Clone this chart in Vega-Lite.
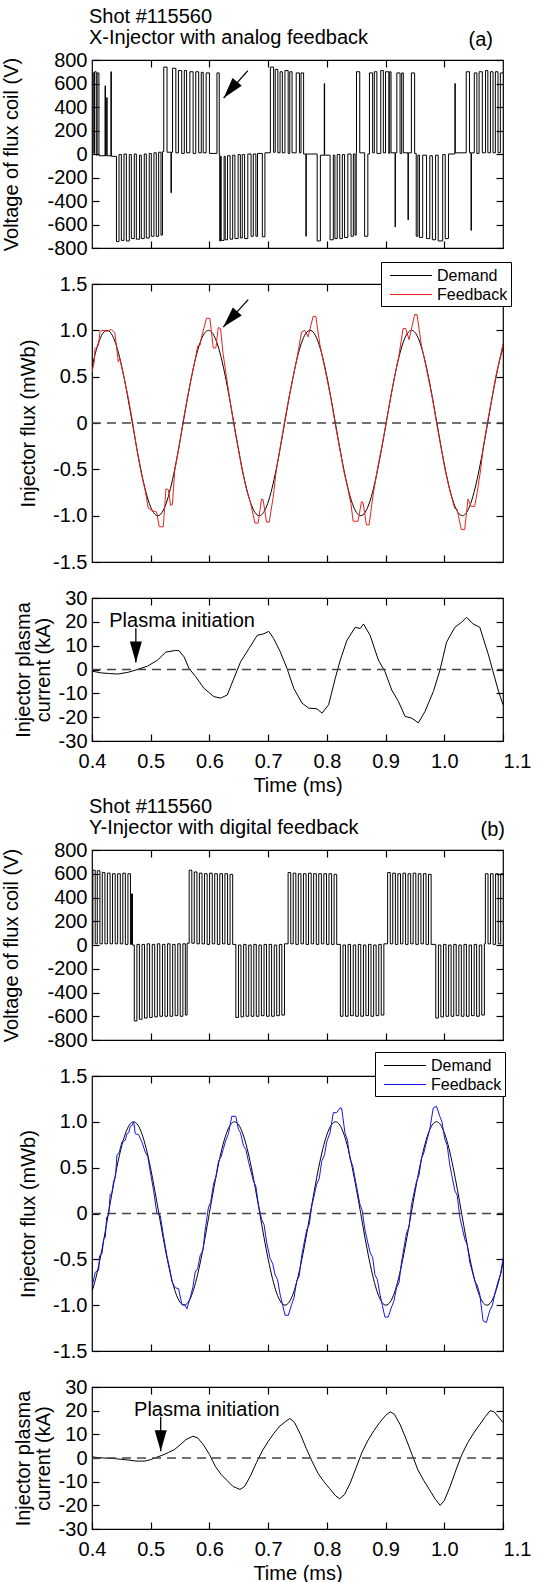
{
"$schema": "https://vega.github.io/schema/vega-lite/v6.json",
"padding": {"left": 1, "top": 6, "right": 5, "bottom": 5},
"config": {
  "font": "Liberation Sans",
  "view": {"stroke": "black", "strokeWidth": 1.2},
  "axis": {"domain": false, "grid": false, "tickColor": "black", "tickSize": -7, "tickWidth": 1.2, "labelPadding": 12, "labelFont": "Liberation Sans", "labelFontSize": 20, "labelColor": "black", "titleFont": "Liberation Sans", "titleFontSize": 20, "titleFontWeight": "normal", "titleColor": "black", "labelOverlap": false, "labelFlush": false}
},
"datasets": {
"va": [{"t":0.4,"v":690},{"t":0.403,"v":5},{"t":0.4042,"v":700},{"t":0.4072,"v":-10},{"t":0.4088,"v":690},{"t":0.4118,"v":-15},{"t":0.4222,"v":580},{"t":0.423,"v":-15},{"t":0.425,"v":480},{"t":0.4258,"v":-15},{"t":0.4322,"v":700},{"t":0.433,"v":-20},
{"t":0.4417,"v":-745},{"t":0.446,"v":-5},{"t":0.45,"v":-735},{"t":0.4545,"v":0},{"t":0.4585,"v":-740},{"t":0.4635,"v":-5},{"t":0.467,"v":-720},{"t":0.472,"v":0},{"t":0.4755,"v":-725},{"t":0.481,"v":-10},{"t":0.484,"v":-720},{"t":0.489,"v":0},{"t":0.4925,"v":-715},{"t":0.4975,"v":5},{"t":0.501,"v":-700},{"t":0.5055,"v":10},{"t":0.5095,"v":-700},{"t":0.5135,"v":15},{"t":0.5175,"v":-690},{"t":0.52,"v":20},
{"t":0.5222,"v":740},{"t":0.5278,"v":15},{"t":0.5345,"v":-330},{"t":0.5352,"v":15},{"t":0.5372,"v":730},{"t":0.5428,"v":10},{"t":0.5472,"v":710},{"t":0.5528,"v":5},{"t":0.5572,"v":710},{"t":0.5611,"v":10},{"t":0.5667,"v":700},{"t":0.5722,"v":5},{"t":0.5767,"v":700},{"t":0.5817,"v":10},{"t":0.5861,"v":695},{"t":0.5894,"v":10},{"t":0.5944,"v":690},{"t":0.6,"v":5},{"t":0.6128,"v":690},{"t":0.6167,"v":0},
{"t":0.6175,"v":-740},{"t":0.619,"v":-20},{"t":0.62,"v":-735},{"t":0.625,"v":-20},{"t":0.6269,"v":-730},{"t":0.6308,"v":-15},{"t":0.6352,"v":-725},{"t":0.6396,"v":-10},{"t":0.6434,"v":-720},{"t":0.6489,"v":-5},{"t":0.6527,"v":-715},{"t":0.656,"v":-5},{"t":0.6599,"v":-720},{"t":0.6654,"v":0},{"t":0.6709,"v":-700},{"t":0.6747,"v":0},{"t":0.6791,"v":-700},{"t":0.6819,"v":5},{"t":0.6901,"v":-705},{"t":0.6945,"v":10},
{"t":0.7038,"v":740},{"t":0.7093,"v":15},{"t":0.7121,"v":720},{"t":0.7165,"v":10},{"t":0.7203,"v":700},{"t":0.7242,"v":10},{"t":0.7286,"v":710},{"t":0.7341,"v":5},{"t":0.7368,"v":700},{"t":0.7407,"v":10},{"t":0.7478,"v":690},{"t":0.7533,"v":10},{"t":0.756,"v":690},{"t":0.7604,"v":0},
{"t":0.7643,"v":-700},{"t":0.765,"v":0},{"t":0.7835,"v":-740},{"t":0.789,"v":-10},{"t":0.7956,"v":600},{"t":0.7962,"v":-10},{"t":0.8055,"v":-730},{"t":0.811,"v":-10},{"t":0.8137,"v":-720},{"t":0.8176,"v":-5},{"t":0.822,"v":-720},{"t":0.8264,"v":-5},{"t":0.8302,"v":-710},{"t":0.8357,"v":0},{"t":0.8412,"v":-700},{"t":0.8451,"v":0},{"t":0.848,"v":-690},{"t":0.85,"v":10},
{"t":0.8505,"v":700},{"t":0.856,"v":10},{"t":0.8643,"v":-700},{"t":0.8698,"v":0},{"t":0.8725,"v":690},{"t":0.878,"v":10},{"t":0.8808,"v":700},{"t":0.8852,"v":5},{"t":0.8918,"v":710},{"t":0.8962,"v":10},{"t":0.9,"v":700},{"t":0.9055,"v":5},{"t":0.9071,"v":700},{"t":0.9093,"v":10},{"t":0.9162,"v":-620},{"t":0.9168,"v":10},{"t":0.9192,"v":690},{"t":0.9247,"v":5},{"t":0.9275,"v":690},{"t":0.9302,"v":10},{"t":0.9382,"v":-560},{"t":0.9388,"v":10},{"t":0.944,"v":690},{"t":0.9495,"v":5},
{"t":0.9522,"v":-700},{"t":0.955,"v":-10},{"t":0.9577,"v":-710},{"t":0.9632,"v":-10},{"t":0.9698,"v":-720},{"t":0.9753,"v":-15},{"t":0.9797,"v":-730},{"t":0.9852,"v":-10},{"t":0.9896,"v":-740},{"t":0.9973,"v":-5},{"t":1.0016,"v":-720},{"t":1.0071,"v":0},{"t":1.0181,"v":600},{"t":1.0187,"v":10},
{"t":1.0374,"v":700},{"t":1.0429,"v":10},{"t":1.0456,"v":-650},{"t":1.0462,"v":10},{"t":1.0511,"v":690},{"t":1.0555,"v":5},{"t":1.0593,"v":700},{"t":1.0648,"v":10},{"t":1.0703,"v":710},{"t":1.0742,"v":10},{"t":1.0786,"v":700},{"t":1.083,"v":10},{"t":1.087,"v":700},{"t":1.0915,"v":10},{"t":1.0955,"v":690},{"t":1.1,"v":690}],
"fad": [{"t":0.3967,"v":0.5},{"t":0.4039,"v":0.707},{"t":0.4111,"v":0.866},{"t":0.4183,"v":0.966},{"t":0.4255,"v":1},{"t":0.4327,"v":0.966},{"t":0.4399,"v":0.866},{"t":0.4471,"v":0.707},{"t":0.4543,"v":0.5},{"t":0.4615,"v":0.259},{"t":0.4687,"v":0},{"t":0.4759,"v":-0.259},{"t":0.4831,"v":-0.5},{"t":0.4903,"v":-0.707},{"t":0.4975,"v":-0.866},{"t":0.5047,"v":-0.966},{"t":0.512,"v":-1},{"t":0.5192,"v":-0.966},{"t":0.5264,"v":-0.866},{"t":0.5336,"v":-0.707},{"t":0.5408,"v":-0.5},{"t":0.548,"v":-0.259},{"t":0.5552,"v":0},{"t":0.5624,"v":0.259},{"t":0.5696,"v":0.5},{"t":0.5768,"v":0.707},{"t":0.584,"v":0.866},{"t":0.5912,"v":0.966},{"t":0.5984,"v":1},{"t":0.6056,"v":0.966},{"t":0.6128,"v":0.866},{"t":0.62,"v":0.707},{"t":0.6272,"v":0.5},{"t":0.6344,"v":0.259},{"t":0.6416,"v":0},{"t":0.6488,"v":-0.259},{"t":0.656,"v":-0.5},{"t":0.6632,"v":-0.707},{"t":0.6704,"v":-0.866},{"t":0.6776,"v":-0.966},{"t":0.6849,"v":-1},{"t":0.6921,"v":-0.966},{"t":0.6993,"v":-0.866},{"t":0.7065,"v":-0.707},{"t":0.7137,"v":-0.5},{"t":0.7209,"v":-0.259},{"t":0.7281,"v":0},{"t":0.7353,"v":0.259},{"t":0.7425,"v":0.5},{"t":0.7497,"v":0.707},{"t":0.7569,"v":0.866},{"t":0.7641,"v":0.966},{"t":0.7713,"v":1},{"t":0.7785,"v":0.966},{"t":0.7857,"v":0.866},{"t":0.7929,"v":0.707},{"t":0.8001,"v":0.5},{"t":0.8073,"v":0.259},{"t":0.8145,"v":0},{"t":0.8217,"v":-0.259},{"t":0.8289,"v":-0.5},{"t":0.8361,"v":-0.707},{"t":0.8433,"v":-0.866},{"t":0.8505,"v":-0.966},{"t":0.8578,"v":-1},{"t":0.865,"v":-0.966},{"t":0.8722,"v":-0.866},{"t":0.8794,"v":-0.707},{"t":0.8866,"v":-0.5},{"t":0.8938,"v":-0.259},{"t":0.901,"v":0},{"t":0.9082,"v":0.259},{"t":0.9154,"v":0.5},{"t":0.9226,"v":0.707},{"t":0.9298,"v":0.866},{"t":0.937,"v":0.966},{"t":0.9442,"v":1},{"t":0.9514,"v":0.966},{"t":0.9586,"v":0.866},{"t":0.9658,"v":0.707},{"t":0.973,"v":0.5},{"t":0.9802,"v":0.259},{"t":0.9874,"v":0},{"t":0.9946,"v":-0.259},{"t":1.0018,"v":-0.5},{"t":1.009,"v":-0.707},{"t":1.0162,"v":-0.866},{"t":1.0234,"v":-0.966},{"t":1.0307,"v":-1},{"t":1.0379,"v":-0.966},{"t":1.0451,"v":-0.866},{"t":1.0523,"v":-0.707},{"t":1.0595,"v":-0.5},{"t":1.0667,"v":-0.259},{"t":1.0739,"v":0},{"t":1.0811,"v":0.259},{"t":1.0883,"v":0.5},{"t":1.0955,"v":0.707},{"t":1.1027,"v":0.866}],
"faf": [{"t":0.4,"v":0.55},{"t":0.4039,"v":0.66},{"t":0.405,"v":0.8},{"t":0.4111,"v":0.84},{"t":0.4136,"v":0.99},{"t":0.4183,"v":1.0},{"t":0.4255,"v":0.99},{"t":0.4327,"v":1.01},{"t":0.439,"v":0.97},{"t":0.4448,"v":0.66},{"t":0.4471,"v":0.7},{"t":0.4543,"v":0.5},{"t":0.4615,"v":0.28},{"t":0.4687,"v":0.03},{"t":0.4759,"v":-0.27},{"t":0.4831,"v":-0.52},{"t":0.4903,"v":-0.72},{"t":0.496,"v":-0.92},{"t":0.5047,"v":-0.95},{"t":0.51,"v":-0.96},{"t":0.5146,"v":-1.12},{"t":0.5214,"v":-1.12},{"t":0.526,"v":-0.71},{"t":0.53,"v":-0.72},{"t":0.534,"v":-0.89},{"t":0.537,"v":-0.88},{"t":0.5408,"v":-0.52},{"t":0.548,"v":-0.27},{"t":0.5552,"v":0.02},{"t":0.5624,"v":0.27},{"t":0.5696,"v":0.5},{"t":0.5768,"v":0.72},{"t":0.58,"v":0.83},{"t":0.584,"v":0.84},{"t":0.5866,"v":0.93},{"t":0.595,"v":1.13},{"t":0.6008,"v":1.13},{"t":0.6065,"v":0.81},{"t":0.611,"v":0.81},{"t":0.615,"v":1.03},{"t":0.619,"v":1.02},{"t":0.623,"v":0.76},{"t":0.629,"v":0.5},{"t":0.6344,"v":0.27},{"t":0.6416,"v":-0.02},{"t":0.6488,"v":-0.27},{"t":0.656,"v":-0.52},{"t":0.6632,"v":-0.72},{"t":0.6704,"v":-0.87},{"t":0.6774,"v":-1.08},{"t":0.683,"v":-1.08},{"t":0.6887,"v":-0.82},{"t":0.6915,"v":-0.83},{"t":0.6972,"v":-1.07},{"t":0.7018,"v":-1.07},{"t":0.7086,"v":-0.8},{"t":0.7137,"v":-0.52},{"t":0.7209,"v":-0.25},{"t":0.7281,"v":0.02},{"t":0.7353,"v":0.27},{"t":0.7425,"v":0.49},{"t":0.7497,"v":0.72},{"t":0.7568,"v":0.98},{"t":0.7625,"v":1.0},{"t":0.768,"v":0.93},{"t":0.7766,"v":1.15},{"t":0.7812,"v":1.15},{"t":0.788,"v":0.85},{"t":0.7929,"v":0.7},{"t":0.8001,"v":0.48},{"t":0.8073,"v":0.25},{"t":0.8145,"v":-0.02},{"t":0.8217,"v":-0.27},{"t":0.8289,"v":-0.52},{"t":0.8361,"v":-0.72},{"t":0.841,"v":-0.87},{"t":0.8447,"v":-1.06},{"t":0.8532,"v":-1.06},{"t":0.8589,"v":-0.85},{"t":0.8617,"v":-0.86},{"t":0.8674,"v":-1.1},{"t":0.8719,"v":-1.1},{"t":0.8787,"v":-0.78},{"t":0.8866,"v":-0.48},{"t":0.8938,"v":-0.25},{"t":0.901,"v":0.0},{"t":0.9082,"v":0.26},{"t":0.9154,"v":0.5},{"t":0.9226,"v":0.72},{"t":0.9298,"v":1.02},{"t":0.9343,"v":1.02},{"t":0.94,"v":0.9},{"t":0.9496,"v":1.17},{"t":0.9536,"v":1.17},{"t":0.961,"v":0.84},{"t":0.9658,"v":0.7},{"t":0.973,"v":0.48},{"t":0.9802,"v":0.25},{"t":0.9874,"v":-0.02},{"t":0.9946,"v":-0.27},{"t":1.0018,"v":-0.52},{"t":1.009,"v":-0.72},{"t":1.0177,"v":-0.92},{"t":1.0217,"v":-0.93},{"t":1.029,"v":-1.15},{"t":1.0347,"v":-1.15},{"t":1.0404,"v":-0.82},{"t":1.046,"v":-0.9},{"t":1.0517,"v":-0.9},{"t":1.056,"v":-0.75},{"t":1.062,"v":-0.5},{"t":1.0667,"v":-0.25},{"t":1.0739,"v":0.02},{"t":1.0811,"v":0.27},{"t":1.0883,"v":0.52},{"t":1.0955,"v":0.72},{"t":1.1,"v":0.86}],
"ia": [{"t":0.4,"v":-0.7},{"t":0.415,"v":-1.4},{"t":0.43,"v":-1.7},{"t":0.444,"v":-1.9},{"t":0.461,"v":-1.2},{"t":0.4775,"v":0},{"t":0.4945,"v":1.4},{"t":0.5115,"v":3.9},{"t":0.5256,"v":7.3},{"t":0.5426,"v":8.0},{"t":0.5483,"v":7.9},{"t":0.5568,"v":5.3},{"t":0.5653,"v":0.4},{"t":0.5766,"v":-3.0},{"t":0.5907,"v":-7.9},{"t":0.6077,"v":-11.4},{"t":0.619,"v":-12.0},{"t":0.6303,"v":-10.7},{"t":0.6417,"v":-3.7},{"t":0.653,"v":3.2},{"t":0.6671,"v":8.7},{"t":0.6813,"v":14.3},{"t":0.6926,"v":15.0},{"t":0.7011,"v":16.0},{"t":0.7096,"v":12.9},{"t":0.7209,"v":7.3},{"t":0.7322,"v":0.4},{"t":0.7436,"v":-7.9},{"t":0.7577,"v":-14.1},{"t":0.769,"v":-16.2},{"t":0.7832,"v":-16.5},{"t":0.7917,"v":-18.3},{"t":0.803,"v":-14.8},{"t":0.8143,"v":-3.7},{"t":0.8228,"v":3.9},{"t":0.8341,"v":12.2},{"t":0.8483,"v":17.7},{"t":0.8568,"v":17.2},{"t":0.8624,"v":19.1},{"t":0.8737,"v":14.3},{"t":0.8879,"v":3.9},{"t":0.8992,"v":-1.0},{"t":0.9105,"v":-8.6},{"t":0.9219,"v":-13.4},{"t":0.9332,"v":-19.7},{"t":0.9445,"v":-20.4},{"t":0.9558,"v":-22.4},{"t":0.9671,"v":-17.6},{"t":0.9813,"v":-9.3},{"t":0.9926,"v":-0.3},{"t":1.0039,"v":11.5},{"t":1.018,"v":17.7},{"t":1.0294,"v":19.8},{"t":1.0379,"v":21.9},{"t":1.0492,"v":19.1},{"t":1.0605,"v":17.7},{"t":1.0747,"v":6.6},{"t":1.0832,"v":-1.0},{"t":1.0917,"v":-8.6},{"t":1.1,"v":-14.8}],
"vb": [{"t":0.4,"v":5},{"t":0.4015,"v":630},{"t":0.4055,"v":10},{"t":0.409,"v":625},{"t":0.4135,"v":10},{"t":0.4175,"v":610},{"t":0.422,"v":10},{"t":0.4262,"v":605},{"t":0.4308,"v":10},{"t":0.435,"v":600},{"t":0.4395,"v":10},{"t":0.4437,"v":600},{"t":0.4482,"v":10},{"t":0.4525,"v":605},{"t":0.4568,"v":5},{"t":0.4612,"v":600},{"t":0.4655,"v":5},{"t":0.4672,"v":430},{"t":0.469,"v":0},
{"t":0.472,"v":-640},{"t":0.4765,"v":5},{"t":0.4807,"v":-625},{"t":0.4852,"v":5},{"t":0.4894,"v":-615},{"t":0.4939,"v":10},{"t":0.4981,"v":-610},{"t":0.5026,"v":5},{"t":0.5068,"v":-605},{"t":0.5113,"v":10},{"t":0.5155,"v":-600},{"t":0.52,"v":5},{"t":0.5242,"v":-600},{"t":0.5287,"v":10},{"t":0.5329,"v":-600},{"t":0.5374,"v":5},{"t":0.5416,"v":-595},{"t":0.5461,"v":10},{"t":0.5503,"v":-600},{"t":0.5548,"v":10},{"t":0.559,"v":-590},{"t":0.562,"v":15},
{"t":0.5655,"v":630},{"t":0.57,"v":15},{"t":0.5742,"v":615},{"t":0.5787,"v":10},{"t":0.5829,"v":605},{"t":0.5874,"v":10},{"t":0.5916,"v":600},{"t":0.5961,"v":5},{"t":0.6003,"v":605},{"t":0.6048,"v":10},{"t":0.609,"v":600},{"t":0.6135,"v":5},{"t":0.6177,"v":600},{"t":0.6222,"v":10},{"t":0.6264,"v":600},{"t":0.6309,"v":5},{"t":0.6351,"v":595},{"t":0.6396,"v":5},
{"t":0.645,"v":-610},{"t":0.6495,"v":0},{"t":0.6537,"v":-605},{"t":0.6582,"v":5},{"t":0.6624,"v":-600},{"t":0.6669,"v":0},{"t":0.6711,"v":-600},{"t":0.6756,"v":5},{"t":0.6798,"v":-600},{"t":0.6843,"v":0},{"t":0.6885,"v":-595},{"t":0.693,"v":5},{"t":0.6972,"v":-600},{"t":0.7017,"v":5},{"t":0.7059,"v":-600},{"t":0.7104,"v":0},{"t":0.7146,"v":-595},{"t":0.7191,"v":5},{"t":0.7233,"v":-590},{"t":0.7278,"v":10},
{"t":0.734,"v":610},{"t":0.7385,"v":10},{"t":0.7427,"v":605},{"t":0.7472,"v":5},{"t":0.7514,"v":600},{"t":0.7559,"v":10},{"t":0.7601,"v":600},{"t":0.7646,"v":5},{"t":0.7688,"v":605},{"t":0.7733,"v":10},{"t":0.7775,"v":600},{"t":0.782,"v":5},{"t":0.7862,"v":600},{"t":0.7907,"v":10},{"t":0.7949,"v":600},{"t":0.7994,"v":5},{"t":0.8036,"v":600},{"t":0.8081,"v":5},{"t":0.8123,"v":595},{"t":0.8168,"v":5},
{"t":0.823,"v":-600},{"t":0.8275,"v":0},{"t":0.8317,"v":-600},{"t":0.8362,"v":5},{"t":0.8404,"v":-595},{"t":0.8449,"v":0},{"t":0.8491,"v":-600},{"t":0.8536,"v":5},{"t":0.8578,"v":-600},{"t":0.8623,"v":0},{"t":0.8665,"v":-595},{"t":0.871,"v":5},{"t":0.8752,"v":-600},{"t":0.8797,"v":0},{"t":0.8839,"v":-595},{"t":0.8884,"v":5},{"t":0.8926,"v":-590},{"t":0.8971,"v":10},
{"t":0.9035,"v":610},{"t":0.908,"v":10},{"t":0.9122,"v":605},{"t":0.9167,"v":5},{"t":0.9209,"v":600},{"t":0.9254,"v":10},{"t":0.9296,"v":605},{"t":0.9341,"v":5},{"t":0.9383,"v":600},{"t":0.9428,"v":10},{"t":0.947,"v":605},{"t":0.9515,"v":5},{"t":0.9557,"v":600},{"t":0.9602,"v":10},{"t":0.9644,"v":600},{"t":0.9689,"v":5},{"t":0.9731,"v":595},{"t":0.9776,"v":5},
{"t":0.9855,"v":-615},{"t":0.99,"v":0},{"t":0.9942,"v":-605},{"t":0.9987,"v":5},{"t":1.0029,"v":-600},{"t":1.0074,"v":0},{"t":1.0116,"v":-600},{"t":1.0161,"v":5},{"t":1.0203,"v":-595},{"t":1.0248,"v":0},{"t":1.029,"v":-600},{"t":1.0335,"v":5},{"t":1.0377,"v":-600},{"t":1.0422,"v":0},{"t":1.0464,"v":-595},{"t":1.0509,"v":5},{"t":1.0551,"v":-600},{"t":1.0596,"v":0},{"t":1.0638,"v":-590},{"t":1.0683,"v":10},
{"t":1.07,"v":600},{"t":1.0745,"v":10},{"t":1.0787,"v":600},{"t":1.0832,"v":5},{"t":1.0874,"v":600},{"t":1.0919,"v":10},{"t":1.0961,"v":600},{"t":1.1,"v":600}],
"fbd": [{"t":0.3993,"v":-0.866},{"t":0.4064,"v":-0.707},{"t":0.4136,"v":-0.5},{"t":0.4208,"v":-0.259},{"t":0.4279,"v":0},{"t":0.4351,"v":0.259},{"t":0.4422,"v":0.5},{"t":0.4494,"v":0.707},{"t":0.4566,"v":0.866},{"t":0.4637,"v":0.966},{"t":0.4709,"v":1},{"t":0.4781,"v":0.966},{"t":0.4852,"v":0.866},{"t":0.4924,"v":0.707},{"t":0.4996,"v":0.5},{"t":0.5067,"v":0.259},{"t":0.5139,"v":0},{"t":0.521,"v":-0.259},{"t":0.5282,"v":-0.5},{"t":0.5354,"v":-0.707},{"t":0.5425,"v":-0.866},{"t":0.5497,"v":-0.966},{"t":0.5569,"v":-1},{"t":0.564,"v":-0.966},{"t":0.5712,"v":-0.866},{"t":0.5783,"v":-0.707},{"t":0.5855,"v":-0.5},{"t":0.5927,"v":-0.259},{"t":0.5998,"v":0},{"t":0.607,"v":0.259},{"t":0.6142,"v":0.5},{"t":0.6213,"v":0.707},{"t":0.6285,"v":0.866},{"t":0.6356,"v":0.966},{"t":0.6428,"v":1},{"t":0.65,"v":0.966},{"t":0.6571,"v":0.866},{"t":0.6643,"v":0.707},{"t":0.6715,"v":0.5},{"t":0.6786,"v":0.259},{"t":0.6858,"v":0},{"t":0.6929,"v":-0.259},{"t":0.7001,"v":-0.5},{"t":0.7073,"v":-0.707},{"t":0.7144,"v":-0.866},{"t":0.7216,"v":-0.966},{"t":0.7287,"v":-1},{"t":0.7359,"v":-0.966},{"t":0.7431,"v":-0.866},{"t":0.7502,"v":-0.707},{"t":0.7574,"v":-0.5},{"t":0.7646,"v":-0.259},{"t":0.7717,"v":0},{"t":0.7789,"v":0.259},{"t":0.786,"v":0.5},{"t":0.7932,"v":0.707},{"t":0.8004,"v":0.866},{"t":0.8075,"v":0.966},{"t":0.8147,"v":1},{"t":0.8219,"v":0.966},{"t":0.829,"v":0.866},{"t":0.8362,"v":0.707},{"t":0.8433,"v":0.5},{"t":0.8505,"v":0.259},{"t":0.8577,"v":0},{"t":0.8648,"v":-0.259},{"t":0.872,"v":-0.5},{"t":0.8792,"v":-0.707},{"t":0.8863,"v":-0.866},{"t":0.8935,"v":-0.966},{"t":0.9006,"v":-1},{"t":0.9078,"v":-0.966},{"t":0.915,"v":-0.866},{"t":0.9221,"v":-0.707},{"t":0.9293,"v":-0.5},{"t":0.9364,"v":-0.259},{"t":0.9436,"v":0},{"t":0.9508,"v":0.259},{"t":0.9579,"v":0.5},{"t":0.9651,"v":0.707},{"t":0.9723,"v":0.866},{"t":0.9794,"v":0.966},{"t":0.9866,"v":1},{"t":0.9938,"v":0.966},{"t":1.0009,"v":0.866},{"t":1.0081,"v":0.707},{"t":1.0152,"v":0.5},{"t":1.0224,"v":0.259},{"t":1.0296,"v":0},{"t":1.0367,"v":-0.259},{"t":1.0439,"v":-0.5},{"t":1.0511,"v":-0.707},{"t":1.0582,"v":-0.866},{"t":1.0654,"v":-0.966},{"t":1.0725,"v":-1},{"t":1.0797,"v":-0.966},{"t":1.0868,"v":-0.866},{"t":1.094,"v":-0.707},{"t":1.1012,"v":-0.5}],
"fbf": [{"t":0.4,"v":-0.8},{"t":0.4057,"v":-0.64},{"t":0.4113,"v":-0.62},{"t":0.413,"v":-0.46},{"t":0.417,"v":-0.44},{"t":0.42,"v":-0.28},{"t":0.4227,"v":-0.26},{"t":0.425,"v":-0.04},{"t":0.4283,"v":-0.02},{"t":0.431,"v":0.21},{"t":0.434,"v":0.23},{"t":0.4368,"v":0.35},{"t":0.44,"v":0.4},{"t":0.4425,"v":0.64},{"t":0.446,"v":0.66},{"t":0.451,"v":0.78},{"t":0.4567,"v":0.8},{"t":0.4595,"v":0.87},{"t":0.4625,"v":0.88},{"t":0.4652,"v":0.95},{"t":0.468,"v":0.96},{"t":0.4709,"v":1.0},{"t":0.4737,"v":0.87},{"t":0.4794,"v":0.86},{"t":0.485,"v":0.78},{"t":0.4907,"v":0.67},{"t":0.495,"v":0.62},{"t":0.4992,"v":0.46},{"t":0.5049,"v":0.25},{"t":0.5105,"v":0.0},{"t":0.5162,"v":-0.02},{"t":0.5219,"v":-0.25},{"t":0.5276,"v":-0.46},{"t":0.533,"v":-0.62},{"t":0.536,"v":-0.74},{"t":0.5417,"v":-0.81},{"t":0.5474,"v":-0.82},{"t":0.553,"v":-0.99},{"t":0.5587,"v":-1.0},{"t":0.5616,"v":-1.04},{"t":0.5672,"v":-0.92},{"t":0.572,"v":-0.8},{"t":0.5757,"v":-0.64},{"t":0.58,"v":-0.6},{"t":0.5842,"v":-0.46},{"t":0.589,"v":-0.4},{"t":0.5927,"v":-0.18},{"t":0.5984,"v":0.07},{"t":0.602,"v":0.12},{"t":0.6069,"v":0.32},{"t":0.611,"v":0.4},{"t":0.6154,"v":0.57},{"t":0.62,"v":0.62},{"t":0.6239,"v":0.71},{"t":0.628,"v":0.8},{"t":0.6324,"v":0.87},{"t":0.6381,"v":1.06},{"t":0.6449,"v":1.06},{"t":0.6494,"v":0.92},{"t":0.653,"v":0.88},{"t":0.6579,"v":0.74},{"t":0.662,"v":0.7},{"t":0.6664,"v":0.57},{"t":0.675,"v":0.35},{"t":0.679,"v":0.3},{"t":0.6834,"v":0.1},{"t":0.6891,"v":-0.07},{"t":0.693,"v":-0.12},{"t":0.6976,"v":-0.32},{"t":0.7033,"v":-0.49},{"t":0.708,"v":-0.55},{"t":0.7118,"v":-0.67},{"t":0.716,"v":-0.72},{"t":0.7203,"v":-0.88},{"t":0.7288,"v":-1.11},{"t":0.7344,"v":-1.11},{"t":0.7401,"v":-0.99},{"t":0.744,"v":-0.92},{"t":0.7486,"v":-0.74},{"t":0.753,"v":-0.68},{"t":0.7571,"v":-0.46},{"t":0.7656,"v":-0.18},{"t":0.77,"v":-0.12},{"t":0.7741,"v":0.07},{"t":0.7826,"v":0.32},{"t":0.787,"v":0.38},{"t":0.7912,"v":0.57},{"t":0.796,"v":0.64},{"t":0.7997,"v":0.78},{"t":0.8053,"v":0.88},{"t":0.811,"v":1.1},{"t":0.8167,"v":1.1},{"t":0.8223,"v":1.15},{"t":0.8252,"v":1.15},{"t":0.8308,"v":0.88},{"t":0.835,"v":0.8},{"t":0.8393,"v":0.6},{"t":0.844,"v":0.52},{"t":0.8478,"v":0.39},{"t":0.8563,"v":0.1},{"t":0.86,"v":0.04},{"t":0.8649,"v":-0.18},{"t":0.8734,"v":-0.42},{"t":0.878,"v":-0.48},{"t":0.8819,"v":-0.67},{"t":0.886,"v":-0.72},{"t":0.8904,"v":-0.88},{"t":0.8989,"v":-1.13},{"t":0.9045,"v":-1.13},{"t":0.9102,"v":-1.02},{"t":0.914,"v":-0.96},{"t":0.9187,"v":-0.81},{"t":0.923,"v":-0.75},{"t":0.9272,"v":-0.53},{"t":0.9357,"v":-0.21},{"t":0.94,"v":-0.15},{"t":0.9442,"v":0.1},{"t":0.9527,"v":0.35},{"t":0.957,"v":0.42},{"t":0.9612,"v":0.6},{"t":0.965,"v":0.66},{"t":0.9697,"v":0.78},{"t":0.9754,"v":0.92},{"t":0.9811,"v":1.15},{"t":0.9867,"v":1.17},{"t":0.9924,"v":1.06},{"t":0.996,"v":1.0},{"t":1.0009,"v":0.81},{"t":1.005,"v":0.74},{"t":1.0094,"v":0.53},{"t":1.0179,"v":0.25},{"t":1.022,"v":0.2},{"t":1.0264,"v":-0.04},{"t":1.0349,"v":-0.28},{"t":1.039,"v":-0.34},{"t":1.0434,"v":-0.53},{"t":1.052,"v":-0.74},{"t":1.056,"v":-0.78},{"t":1.0604,"v":-0.88},{"t":1.0661,"v":-1.17},{"t":1.0717,"v":-1.19},{"t":1.0774,"v":-1.06},{"t":1.082,"v":-1.0},{"t":1.0859,"v":-0.88},{"t":1.0916,"v":-0.74},{"t":1.096,"v":-0.66},{"t":1.1,"v":-0.49}],
"ib": [{"t":0.4,"v":0.5},{"t":0.41,"v":0.2},{"t":0.42,"v":0.0},{"t":0.44,"v":-0.3},{"t":0.46,"v":-0.8},{"t":0.475,"v":-1.3},{"t":0.49,"v":-1.3},{"t":0.5,"v":-0.7},{"t":0.51,"v":0.3},{"t":0.52,"v":1.2},{"t":0.53,"v":2.3},{"t":0.54,"v":3.5},{"t":0.55,"v":5.5},{"t":0.56,"v":7.8},{"t":0.572,"v":9.2},{"t":0.58,"v":8.5},{"t":0.59,"v":5.5},{"t":0.6,"v":1.5},{"t":0.61,"v":-3.5},{"t":0.62,"v":-7.0},{"t":0.63,"v":-9.5},{"t":0.64,"v":-12.0},{"t":0.652,"v":-13.3},{"t":0.66,"v":-12.0},{"t":0.67,"v":-7.5},{"t":0.68,"v":-2.0},{"t":0.69,"v":3.0},{"t":0.7,"v":7.0},{"t":0.71,"v":10.5},{"t":0.72,"v":13.5},{"t":0.73,"v":15.5},{"t":0.737,"v":16.7},{"t":0.745,"v":15.0},{"t":0.755,"v":10.0},{"t":0.765,"v":4.0},{"t":0.775,"v":-1.5},{"t":0.785,"v":-6.5},{"t":0.795,"v":-10.0},{"t":0.805,"v":-13.0},{"t":0.815,"v":-16.0},{"t":0.822,"v":-17.2},{"t":0.83,"v":-15.5},{"t":0.84,"v":-10.5},{"t":0.85,"v":-4.0},{"t":0.86,"v":2.5},{"t":0.87,"v":7.5},{"t":0.88,"v":11.5},{"t":0.89,"v":15.0},{"t":0.9,"v":18.0},{"t":0.908,"v":19.5},{"t":0.915,"v":18.5},{"t":0.925,"v":14.0},{"t":0.935,"v":8.0},{"t":0.945,"v":1.5},{"t":0.955,"v":-5.0},{"t":0.965,"v":-9.5},{"t":0.975,"v":-13.5},{"t":0.985,"v":-17.5},{"t":0.993,"v":-20.0},{"t":1.0,"v":-18.0},{"t":1.01,"v":-12.0},{"t":1.02,"v":-5.0},{"t":1.03,"v":1.5},{"t":1.04,"v":6.5},{"t":1.05,"v":10.5},{"t":1.06,"v":14.0},{"t":1.07,"v":17.5},{"t":1.078,"v":20.0},{"t":1.085,"v":19.5},{"t":1.095,"v":16.5},{"t":1.1,"v":15.0}]
},
"vconcat": [
 {"width": 411, "height": 188,
  "title": {"text": ["Shot #115560", "X-Injector with analog feedback"], "anchor": "start", "frame": "group", "fontSize": 20, "fontWeight": "normal", "font": "Liberation Sans", "color": "black", "lineHeight": 21, "offset": -18, "dx": -3},
  "layer": [
   {"data": {"name": "va"}, "mark": {"type": "line", "interpolate": "step-after", "color": "black", "strokeWidth": 1, "clip": true},
    "encoding": {
     "x": {"field": "t", "type": "quantitative", "scale": {"domain": [0.4, 1.1], "nice": false, "zero": false}, "axis": {"orient": "bottom", "values": [0.5,0.6,0.7,0.8,0.9,1.0], "labels": false, "title": null}},
     "y": {"field": "v", "type": "quantitative", "scale": {"domain": [-800, 800], "nice": false, "zero": false}, "axis": {"values": [-800,-600,-400,-200,0,200,400,600,800], "title": "Voltage of flux coil (V)", "titlePadding": 25, "labelExpr": "replace(datum.label, '−', '-')"}}}},
   {"data": {"values": [{"lab": "(a)"}]}, "mark": {"type": "text", "align": "right", "baseline": "alphabetic", "dx": -10, "dy": -14, "fontSize": 20, "font": "Liberation Sans", "color": "black"},
    "encoding": {
     "x": {"datum": 1.1, "type": "quantitative", "axis": {"orient": "top", "values": [0.5,0.6,0.7,0.8,0.9,1.0], "labels": false, "title": null}},
     "y": {"datum": 800, "type": "quantitative", "axis": {"orient": "right", "values": [-800,-600,-400,-200,0,200,400,600,800], "labels": false, "title": null}},
     "text": {"field": "lab", "type": "nominal"}}},
   {"data": {"values": [{"t": 0.6654, "v": 710, "t2": 0.6242, "v2": 477}]}, "mark": {"type": "rule", "color": "black", "strokeWidth": 1.3},
    "encoding": {"x": {"field": "t", "type": "quantitative", "axis": null}, "y": {"field": "v", "type": "quantitative", "axis": null}, "x2": {"field": "t2"}, "y2": {"field": "v2"}}},
   {"data": {"values": [{"t": 0.6242, "v": 477}]}, "mark": {"type": "point", "shape": "M0,0L-0.6,-2.1L0.6,-2.1Z", "size": 400, "filled": true, "color": "black", "opacity": 1, "angle": 40},
    "encoding": {"x": {"field": "t", "type": "quantitative", "axis": null}, "y": {"field": "v", "type": "quantitative", "axis": null}}}
  ],
  "resolve": {"axis": {"x": "independent", "y": "independent"}}},
 {"width": 411, "height": 278,
  "layer": [
   {"data": {"name": "fad"}, "mark": {"type": "line", "interpolate": "monotone", "strokeWidth": 1, "clip": true},
    "encoding": {
     "x": {"field": "t", "type": "quantitative", "scale": {"domain": [0.4, 1.1], "nice": false, "zero": false}, "axis": {"orient": "bottom", "values": [0.5,0.6,0.7,0.8,0.9,1.0], "labels": false, "title": null}},
     "y": {"field": "v", "type": "quantitative", "scale": {"domain": [-1.5, 1.5], "nice": false, "zero": false}, "axis": {"values": [-1.5,-1,-0.5,0,0.5,1,1.5], "title": "Injector flux (mWb)", "titlePadding": 14, "labelExpr": "datum.value == 0 ? '0' : replace(format(datum.value, '.1f'), '−', '-')"}},
     "color": {"datum": "Demand", "type": "nominal", "scale": {"domain": ["Demand", "Feedback"], "range": ["black", "#e8211e"]},
       "legend": {"orient": "none", "legendX": 289, "legendY": -22, "title": null, "strokeColor": "black", "fillColor": "white", "padding": 3, "labelFontSize": 16, "labelFont": "Liberation Sans", "labelColor": "black", "symbolType": "M-0.45,0H3.75", "symbolSize": 400, "symbolStrokeWidth": 1, "labelOffset": 32, "rowPadding": 0}}}},
   {"data": {"name": "faf"}, "mark": {"type": "line", "strokeWidth": 1, "clip": true},
    "encoding": {"x": {"field": "t", "type": "quantitative", "axis": null}, "y": {"field": "v", "type": "quantitative", "axis": null}, "color": {"datum": "Feedback", "type": "nominal"}}},
   {"data": {"values": [{}]}, "mark": {"type": "rule", "strokeDash": [9, 6], "color": "#444", "strokeWidth": 1.3},
    "encoding": {
     "x": {"datum": 0.4, "type": "quantitative", "axis": {"orient": "top", "values": [0.5,0.6,0.7,0.8,0.9,1.0], "labels": false, "title": null}},
     "x2": {"datum": 1.1},
     "y": {"datum": 0, "type": "quantitative", "axis": {"orient": "right", "values": [-1.5,-1,-0.5,0,0.5,1,1.5], "labels": false, "title": null}}}},
   {"data": {"values": [{"t": 0.666, "v": 1.332, "t2": 0.6235, "v2": 1.035}]}, "mark": {"type": "rule", "color": "black", "strokeWidth": 1.3},
    "encoding": {"x": {"field": "t", "type": "quantitative", "axis": null}, "y": {"field": "v", "type": "quantitative", "axis": null}, "x2": {"field": "t2"}, "y2": {"field": "v2"}}},
   {"data": {"values": [{"t": 0.6235, "v": 1.035}]}, "mark": {"type": "point", "shape": "M0,0L-0.6,-2.1L0.6,-2.1Z", "size": 400, "filled": true, "color": "black", "opacity": 1, "angle": 42},
    "encoding": {"x": {"field": "t", "type": "quantitative", "axis": null}, "y": {"field": "v", "type": "quantitative", "axis": null}}}
  ],
  "resolve": {"axis": {"x": "independent", "y": "independent"}}},
 {"width": 411, "height": 143,
  "layer": [
   {"data": {"name": "ia"}, "mark": {"type": "line", "color": "black", "strokeWidth": 1, "clip": true},
    "encoding": {
     "x": {"field": "t", "type": "quantitative", "scale": {"domain": [0.4, 1.1], "nice": false, "zero": false}, "axis": {"orient": "bottom", "values": [0.4,0.5,0.6,0.7,0.8,0.9,1.0,1.1], "format": ".1f", "title": "Time (ms)", "titlePadding": 4, "labelPadding": 17, "labelOffset": {"condition": {"test": "datum.value > 1.05", "value": 14}, "value": 0}}},
     "y": {"field": "v", "type": "quantitative", "scale": {"domain": [-30, 30], "nice": false, "zero": false}, "axis": {"values": [-30,-20,-10,0,10,20,30], "title": ["Injector plasma", "current (kA)"], "titlePadding": 5, "titleLineHeight": 20, "labelExpr": "replace(datum.label, '−', '-')"}}}},
   {"data": {"values": [{}]}, "mark": {"type": "rule", "strokeDash": [9, 6], "color": "#444", "strokeWidth": 1.3},
    "encoding": {
     "x": {"datum": 0.4, "type": "quantitative", "axis": {"orient": "top", "values": [0.5,0.6,0.7,0.8,0.9,1.0], "labels": false, "title": null}},
     "x2": {"datum": 1.1},
     "y": {"datum": 0, "type": "quantitative", "axis": {"orient": "right", "values": [-30,-20,-10,0,10,20,30], "labels": false, "title": null}}}},
   {"data": {"values": [{"t": 0.4747, "v": 17.3, "v2": 2.9}]}, "mark": {"type": "rule", "color": "black", "strokeWidth": 1.3},
    "encoding": {"x": {"field": "t", "type": "quantitative", "axis": null}, "y": {"field": "v", "type": "quantitative", "axis": null}, "y2": {"field": "v2"}}},
   {"data": {"values": [{"t": 0.4747, "v": 2.9}]}, "mark": {"type": "point", "shape": "M0,0L-0.6,-2.1L0.6,-2.1Z", "size": 400, "filled": true, "color": "black", "opacity": 1},
    "encoding": {"x": {"field": "t", "type": "quantitative", "axis": null}, "y": {"field": "v", "type": "quantitative", "axis": null}}},
   {"data": {"values": [{"t": 0.4294, "v": 20.5, "lab": "Plasma initiation"}]}, "mark": {"type": "text", "align": "left", "baseline": "middle", "fontSize": 20, "font": "Liberation Sans", "color": "black"},
    "encoding": {"x": {"field": "t", "type": "quantitative", "axis": null}, "y": {"field": "v", "type": "quantitative", "axis": null}, "text": {"field": "lab", "type": "nominal"}}}
  ],
  "resolve": {"axis": {"x": "independent", "y": "independent"}}},
 {"width": 411, "height": 37, "view": {"stroke": null}, "data": {"values": [{}]}, "mark": {"type": "text", "text": ""}, "encoding": {}},
 {"width": 411, "height": 190,
  "title": {"text": ["Shot #115560", "Y-Injector with digital feedback"], "anchor": "start", "frame": "group", "fontSize": 20, "fontWeight": "normal", "font": "Liberation Sans", "color": "black", "lineHeight": 21, "offset": -18, "dx": -3},
  "layer": [
   {"data": {"name": "vb"}, "mark": {"type": "line", "interpolate": "step-after", "color": "black", "strokeWidth": 1, "clip": true},
    "encoding": {
     "x": {"field": "t", "type": "quantitative", "scale": {"domain": [0.4, 1.1], "nice": false, "zero": false}, "axis": {"orient": "bottom", "values": [0.5,0.6,0.7,0.8,0.9,1.0], "labels": false, "title": null}},
     "y": {"field": "v", "type": "quantitative", "scale": {"domain": [-800, 800], "nice": false, "zero": false}, "axis": {"values": [-800,-600,-400,-200,0,200,400,600,800], "title": "Voltage of flux coil (V)", "titlePadding": 25, "labelExpr": "replace(datum.label, '−', '-')"}}}},
   {"data": {"values": [{"lab": "(b)"}]}, "mark": {"type": "text", "align": "right", "baseline": "alphabetic", "dx": 2, "dy": -14, "fontSize": 20, "font": "Liberation Sans", "color": "black"},
    "encoding": {
     "x": {"datum": 1.1, "type": "quantitative", "axis": {"orient": "top", "values": [0.5,0.6,0.7,0.8,0.9,1.0], "labels": false, "title": null}},
     "y": {"datum": 800, "type": "quantitative", "axis": {"orient": "right", "values": [-800,-600,-400,-200,0,200,400,600,800], "labels": false, "title": null}},
     "text": {"field": "lab", "type": "nominal"}}}
  ],
  "resolve": {"axis": {"x": "independent", "y": "independent"}}},
 {"width": 411, "height": 275,
  "layer": [
   {"data": {"name": "fbd"}, "mark": {"type": "line", "interpolate": "monotone", "strokeWidth": 1, "clip": true},
    "encoding": {
     "x": {"field": "t", "type": "quantitative", "scale": {"domain": [0.4, 1.1], "nice": false, "zero": false}, "axis": {"orient": "bottom", "values": [0.5,0.6,0.7,0.8,0.9,1.0], "labels": false, "title": null}},
     "y": {"field": "v", "type": "quantitative", "scale": {"domain": [-1.5, 1.5], "nice": false, "zero": false}, "axis": {"values": [-1.5,-1,-0.5,0,0.5,1,1.5], "title": "Injector flux (mWb)", "titlePadding": 14, "labelExpr": "datum.value == 0 ? '0' : replace(format(datum.value, '.1f'), '−', '-')"}},
     "color": {"datum": "Demand", "type": "nominal", "scale": {"domain": ["Demand", "Feedback"], "range": ["black", "#1414f0"]},
       "legend": {"orient": "none", "legendX": 283, "legendY": -24, "title": null, "strokeColor": "black", "fillColor": "white", "padding": 3, "labelFontSize": 16, "labelFont": "Liberation Sans", "labelColor": "black", "symbolType": "M-0.45,0H3.75", "symbolSize": 400, "symbolStrokeWidth": 1, "labelOffset": 32, "rowPadding": 0}}}},
   {"data": {"name": "fbf"}, "mark": {"type": "line", "strokeWidth": 1, "clip": true},
    "encoding": {"x": {"field": "t", "type": "quantitative", "axis": null}, "y": {"field": "v", "type": "quantitative", "axis": null}, "color": {"datum": "Feedback", "type": "nominal"}}},
   {"data": {"values": [{}]}, "mark": {"type": "rule", "strokeDash": [9, 6], "color": "#444", "strokeWidth": 1.3},
    "encoding": {
     "x": {"datum": 0.4, "type": "quantitative", "axis": {"orient": "top", "values": [0.5,0.6,0.7,0.8,0.9,1.0], "labels": false, "title": null}},
     "x2": {"datum": 1.1},
     "y": {"datum": 0, "type": "quantitative", "axis": {"orient": "right", "values": [-1.5,-1,-0.5,0,0.5,1,1.5], "labels": false, "title": null}}}}
  ],
  "resolve": {"axis": {"x": "independent", "y": "independent"}}},
 {"width": 411, "height": 142,
  "layer": [
   {"data": {"name": "ib"}, "mark": {"type": "line", "color": "black", "strokeWidth": 1, "clip": true},
    "encoding": {
     "x": {"field": "t", "type": "quantitative", "scale": {"domain": [0.4, 1.1], "nice": false, "zero": false}, "axis": {"orient": "bottom", "values": [0.4,0.5,0.6,0.7,0.8,0.9,1.0,1.1], "format": ".1f", "title": "Time (ms)", "titlePadding": 4, "labelPadding": 17, "labelOffset": {"condition": {"test": "datum.value > 1.05", "value": 14}, "value": 0}}},
     "y": {"field": "v", "type": "quantitative", "scale": {"domain": [-30, 30], "nice": false, "zero": false}, "axis": {"values": [-30,-20,-10,0,10,20,30], "title": ["Injector plasma", "current (kA)"], "titlePadding": 5, "titleLineHeight": 20, "labelExpr": "replace(datum.label, '−', '-')"}}}},
   {"data": {"values": [{}]}, "mark": {"type": "rule", "strokeDash": [9, 6], "color": "#444", "strokeWidth": 1.3},
    "encoding": {
     "x": {"datum": 0.4, "type": "quantitative", "axis": {"orient": "top", "values": [0.5,0.6,0.7,0.8,0.9,1.0], "labels": false, "title": null}},
     "x2": {"datum": 1.1},
     "y": {"datum": 0, "type": "quantitative", "axis": {"orient": "right", "values": [-30,-20,-10,0,10,20,30], "labels": false, "title": null}}}},
   {"data": {"values": [{"t": 0.517, "v": 17.4, "v2": 2.8}]}, "mark": {"type": "rule", "color": "black", "strokeWidth": 1.3},
    "encoding": {"x": {"field": "t", "type": "quantitative", "axis": null}, "y": {"field": "v", "type": "quantitative", "axis": null}, "y2": {"field": "v2"}}},
   {"data": {"values": [{"t": 0.517, "v": 2.8}]}, "mark": {"type": "point", "shape": "M0,0L-0.6,-2.1L0.6,-2.1Z", "size": 400, "filled": true, "color": "black", "opacity": 1},
    "encoding": {"x": {"field": "t", "type": "quantitative", "axis": null}, "y": {"field": "v", "type": "quantitative", "axis": null}}},
   {"data": {"values": [{"t": 0.4716, "v": 20.2, "lab": "Plasma initiation"}]}, "mark": {"type": "text", "align": "left", "baseline": "middle", "fontSize": 20, "font": "Liberation Sans", "color": "black"},
    "encoding": {"x": {"field": "t", "type": "quantitative", "axis": null}, "y": {"field": "v", "type": "quantitative", "axis": null}, "text": {"field": "lab", "type": "nominal"}}}
  ],
  "resolve": {"axis": {"x": "independent", "y": "independent"}}}
],
"spacing": 36,
"bounds": "flush",
"resolve": {"scale": {"color": "independent"}, "legend": {"color": "independent"}}
}
